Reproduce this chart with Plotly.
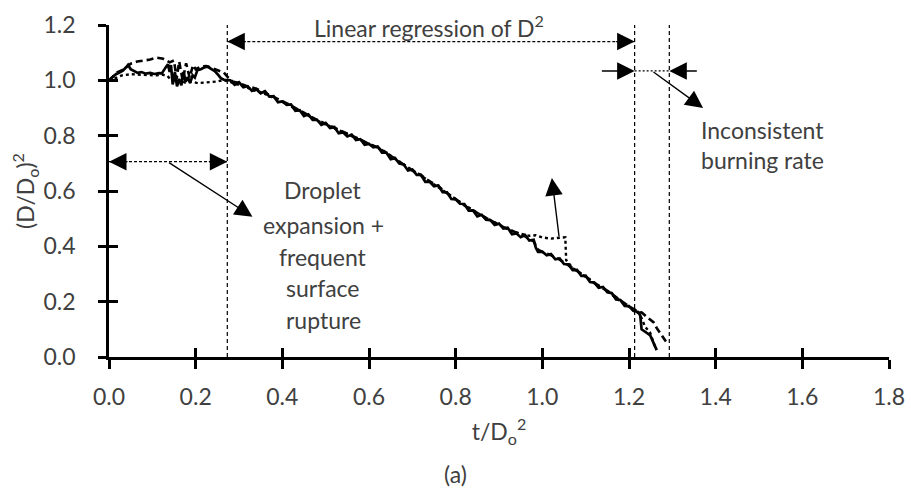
import plotly.graph_objects as go

# ---------------- data ----------------
solid_t = [0.000, 0.008, 0.016, 0.024, 0.032, 0.040, 0.044, 0.050, 0.058, 0.066, 0.075, 0.085, 0.095,
           0.105, 0.115, 0.122, 0.130, 0.136, 0.140, 0.143, 0.147, 0.152, 0.157, 0.162, 0.167, 0.172,
           0.177, 0.182, 0.187, 0.193, 0.198, 0.204, 0.212, 0.220, 0.228, 0.236, 0.245, 0.252, 0.258,
           0.265, 0.272,
           0.28, 0.29, 0.30, 0.31, 0.32, 0.33, 0.34, 0.35, 0.36, 0.37, 0.38, 0.39, 0.40, 0.41, 0.42,
           0.43, 0.44, 0.45, 0.46, 0.47, 0.48, 0.49, 0.50, 0.51, 0.52, 0.53, 0.54, 0.55, 0.56, 0.57,
           0.58, 0.59, 0.60, 0.61, 0.62, 0.63, 0.64, 0.65, 0.66, 0.67, 0.68, 0.69, 0.70, 0.71, 0.72,
           0.73, 0.74, 0.75, 0.76, 0.77, 0.78, 0.79, 0.80, 0.81, 0.82, 0.83, 0.84, 0.85, 0.86, 0.87,
           0.88, 0.89, 0.90, 0.91, 0.92, 0.93, 0.94, 0.95, 0.96, 0.97, 0.98, 0.985, 0.99, 1.00, 1.01,
           1.02, 1.03, 1.04, 1.05, 1.06, 1.07, 1.08, 1.09, 1.10, 1.11, 1.12, 1.13, 1.14, 1.15, 1.16,
           1.17, 1.18, 1.19, 1.20, 1.21, 1.222, 1.226, 1.229, 1.236, 1.243, 1.249, 1.254, 1.259, 1.264]
solid_d = [1.000, 1.012, 1.022, 1.028, 1.035, 1.048, 1.056, 1.040, 1.032, 1.027, 1.030, 1.024, 1.027,
           1.023, 1.026, 1.025, 1.045, 1.058, 1.030, 1.055, 0.985, 1.030, 0.978, 1.005, 0.982, 1.030,
           0.995, 1.012, 0.990, 1.018, 1.010, 1.037, 1.040, 1.047, 1.049, 1.040, 1.032, 1.020, 1.008,
           1.002, 1.000,
           1.000, 0.984, 0.993, 0.975, 0.979, 0.962, 0.968, 0.953, 0.961, 0.941, 0.943, 0.921, 0.924,
           0.911, 0.913, 0.890, 0.892, 0.871, 0.877, 0.857, 0.857, 0.839, 0.846, 0.828, 0.831, 0.809,
           0.812, 0.797, 0.804, 0.784, 0.787, 0.767, 0.770, 0.758, 0.761, 0.739, 0.739, 0.715, 0.719,
           0.699, 0.696, 0.674, 0.678, 0.658, 0.658, 0.633, 0.633, 0.617, 0.620, 0.596, 0.595, 0.571,
           0.570, 0.554, 0.553, 0.529, 0.530, 0.508, 0.514, 0.496, 0.495, 0.477, 0.482, 0.464, 0.467,
           0.444, 0.447, 0.433, 0.441, 0.421, 0.424, 0.395, 0.380, 0.381, 0.368, 0.372, 0.353, 0.356,
           0.336, 0.335, 0.314, 0.315, 0.293, 0.294, 0.271, 0.269, 0.250, 0.253, 0.234, 0.231, 0.208,
           0.206, 0.185, 0.184, 0.167, 0.162, 0.150, 0.100, 0.094, 0.085, 0.078, 0.060, 0.042, 0.025]

dash_t = [0.000, 0.010, 0.020, 0.035, 0.050, 0.065, 0.080, 0.095, 0.110, 0.125, 0.140, 0.150, 0.156,
          0.162, 0.170, 0.178, 0.186, 0.194, 0.200, 0.212, 0.225, 0.240, 0.255, 0.265, 0.275, 0.285,
          0.30, 0.32, 0.34, 0.36, 0.38, 0.40, 0.42, 0.44, 0.46, 0.48, 0.50, 0.52, 0.54, 0.56, 0.58,
          0.60, 0.62, 0.64, 0.66, 0.68, 0.70, 0.72, 0.74, 0.76, 0.78, 0.80, 0.82, 0.84, 0.86, 0.88,
          0.90, 0.92, 0.94, 0.96, 0.98, 0.99, 1.00, 1.02, 1.04, 1.06, 1.08, 1.10, 1.12, 1.14, 1.16,
          1.18, 1.20, 1.215, 1.230, 1.245, 1.257, 1.264, 1.272, 1.280, 1.290]
dash_d = [1.000, 1.015, 1.030, 1.040, 1.060, 1.068, 1.072, 1.075, 1.082, 1.078, 1.065, 1.072, 1.005,
          1.068, 1.000, 1.062, 1.010, 1.055, 1.040, 1.050, 1.052, 1.044, 1.036, 1.028, 1.010, 0.996,
          0.990, 0.978, 0.970, 0.956, 0.940, 0.925, 0.909, 0.893, 0.874, 0.857, 0.843, 0.827, 0.814,
          0.799, 0.786, 0.770, 0.757, 0.738, 0.716, 0.695, 0.674, 0.657, 0.635, 0.617, 0.592, 0.571,
          0.548, 0.529, 0.511, 0.493, 0.477, 0.463, 0.450, 0.436, 0.418, 0.388, 0.380, 0.368, 0.352,
          0.333, 0.311, 0.291, 0.268, 0.249, 0.229, 0.205, 0.183, 0.170, 0.160, 0.140, 0.125, 0.105,
          0.085, 0.065, 0.045]

dot_t = [0.000, 0.015, 0.030, 0.050, 0.070, 0.090, 0.110, 0.125, 0.135, 0.145, 0.155, 0.165, 0.175,
         0.190, 0.205, 0.220, 0.235, 0.250, 0.262, 0.275, 0.29, 0.31, 0.33, 0.35, 0.37, 0.39, 0.41,
         0.43, 0.45, 0.47, 0.49, 0.51, 0.53, 0.55, 0.57, 0.59, 0.61, 0.63, 0.65, 0.67, 0.69, 0.71,
         0.73, 0.75, 0.77, 0.79, 0.81, 0.83, 0.85, 0.87, 0.89, 0.91, 0.93, 0.95, 0.97, 0.985, 1.00,
         1.02, 1.04, 1.053, 1.055, 1.07, 1.09, 1.11, 1.13, 1.15, 1.17, 1.19, 1.21, 1.225, 1.237,
         1.249, 1.26]
dot_d = [0.998, 1.008, 1.018, 1.022, 1.020, 1.019, 1.018, 1.020, 1.015, 1.000, 0.995, 1.000, 0.992,
         0.995, 0.990, 0.992, 0.993, 0.996, 1.000, 0.997, 0.988, 0.980, 0.966, 0.957, 0.944, 0.930,
         0.914, 0.897, 0.880, 0.862, 0.847, 0.834, 0.820, 0.805, 0.792, 0.777, 0.763, 0.749, 0.728,
         0.706, 0.685, 0.666, 0.645, 0.627, 0.604, 0.582, 0.560, 0.540, 0.520, 0.502, 0.487, 0.470,
         0.455, 0.446, 0.438, 0.440, 0.432, 0.428, 0.431, 0.433, 0.350, 0.322, 0.300, 0.279, 0.254,
         0.240, 0.213, 0.192, 0.172, 0.155, 0.110, 0.087, 0.037]

x_ticks = [0.0, 0.2, 0.4, 0.6, 0.8, 1.0, 1.2, 1.4, 1.6, 1.8]
x_tick_labels = ["0.0", "0.2", "0.4", "0.6", "0.8", "1.0", "1.2", "1.4", "1.6", "1.8"]
y_ticks = [0.0, 0.2, 0.4, 0.6, 0.8, 1.0, 1.2]
y_tick_labels = ["0.0", "0.2", "0.4", "0.6", "0.8", "1.0", "1.2"]

# region boundaries (t/Do^2)
t_expansion_end = 0.273
t_regression_end = 1.213
t_inconsistent_end = 1.293

droplet_lines = ["Droplet", "expansion +", "frequent", "surface", "rupture"]
droplet_y = [0.604, 0.477, 0.361, 0.249, 0.134]

# ---------------- figure ----------------
FONT = "Lato"
FS = 23
TXT = "#404040"
fig = go.Figure()

fig.add_trace(go.Scatter(x=solid_t, y=solid_d, mode="lines", name="solid",
                         line=dict(color="black", width=2.7)))
fig.add_trace(go.Scatter(x=dash_t, y=dash_d, mode="lines", name="dashed",
                         line=dict(color="black", width=2.6, dash="7px,4px")))
fig.add_trace(go.Scatter(x=dot_t, y=dot_d, mode="lines", name="dotted",
                         xaxis="x2", yaxis="y2",
                         line=dict(color="black", width=2.4, dash="dot")))

axis_common = dict(showgrid=False, zeroline=False, color="black", automargin=False)
fig.update_layout(
    template="none",
    width=911, height=488,
    margin=dict(l=109, r=22, t=25, b=131),
    paper_bgcolor="white", plot_bgcolor="white",
    showlegend=False,
    font=dict(family=FONT, size=FS, color=TXT),
    xaxis=dict(range=[0, 1.8], tickvals=x_ticks, ticktext=x_tick_labels,
               showline=True, linecolor="black", linewidth=2.5,
               ticks="outside", ticklen=9, tickwidth=2.5, tickcolor="black",
               ticklabelstandoff=9,
               tickfont=dict(family=FONT, size=FS, color=TXT),
               title=dict(text="t/D<sub>o</sub><sup>2</sup>", standoff=15,
                          font=dict(family=FONT, size=FS, color=TXT)),
               **axis_common),
    yaxis=dict(range=[0, 1.2], tickvals=y_ticks, ticktext=y_tick_labels,
               showline=True, linecolor="black", linewidth=2.5,
               ticks="outside", ticklen=8, tickwidth=2.5, tickcolor="black",
               ticklabelstandoff=18,
               tickfont=dict(family=FONT, size=FS, color=TXT),
               title=dict(text="(D/D<sub>o</sub>)<sup>2</sup>", standoff=3,
                          font=dict(family=FONT, size=FS, color=TXT)),
               **axis_common),
    xaxis2=dict(range=[0, 1.8], overlaying="x", anchor="y", tickvals=x_ticks,
                showticklabels=False, ticks="inside", ticklen=9, tickwidth=2.5,
                tickcolor="black", showline=False, **axis_common),
    yaxis2=dict(range=[0, 1.2], overlaying="y", anchor="x", tickvals=y_ticks,
                showticklabels=False, ticks="inside", ticklen=9, tickwidth=2.5,
                tickcolor="black", showline=False, **axis_common),
)

# vertical dashed boundaries
for tb in [t_expansion_end, t_regression_end, t_inconsistent_end]:
    fig.add_shape(type="line", xref="x", yref="y", x0=tb, x1=tb, y0=0, y1=1.21,
                  line=dict(color="black", width=1.2, dash="4px,3px"))

# horizontal dashed spans
fig.add_shape(type="line", xref="x", yref="y", x0=t_expansion_end, x1=t_regression_end,
              y0=1.14, y1=1.14, line=dict(color="black", width=1.2, dash="3px,2px"))
fig.add_shape(type="line", xref="x", yref="y", x0=0, x1=t_expansion_end,
              y0=0.706, y1=0.706, line=dict(color="black", width=1.2, dash="3px,2px"))
fig.add_shape(type="line", xref="x", yref="y", x0=t_regression_end, x1=t_inconsistent_end,
              y0=1.034, y1=1.034, line=dict(color="black", width=1.2, dash="2px,2px"))

HEAD = dict(showarrow=True, arrowhead=2, arrowsize=2.5, arrowwidth=1.4,
            arrowcolor="black", text="")

def head(x, y, ax, ay):
    fig.add_annotation(x=x, y=y, ax=ax, ay=ay, xref="x", yref="y", **HEAD)

def arrow(x, y, ax, ay):
    fig.add_annotation(x=x, y=y, ax=ax, ay=ay, xref="x", yref="y",
                       axref="x", ayref="y", **HEAD)

# heads of the dashed spans
head(t_regression_end, 1.14, -20, 0)
head(t_expansion_end, 1.14, 20, 0)
head(t_expansion_end, 0.706, -20, 0)
head(0, 0.706, 20, 0)
# inconsistent burning rate arrows
arrow(t_regression_end, 1.034, 1.134, 1.034)
arrow(t_inconsistent_end, 1.034, 1.36, 1.034)
arrow(1.371, 0.90, 1.253, 1.034)
# droplet expansion pointer
arrow(0.331, 0.507, 0.135, 0.706)
# pointer near t = 1.0
arrow(1.022, 0.647, 1.039, 0.43)

# texts
fig.add_annotation(x=0.738, y=1.193, xref="x", yref="y", showarrow=False,
                   text="Linear regression of D<sup>2</sup>",
                   font=dict(family=FONT, size=FS, color=TXT))
for line_txt, ly in zip(droplet_lines, droplet_y):
    fig.add_annotation(x=0.494, y=ly, xref="x", yref="y", showarrow=False, text=line_txt,
                       font=dict(family=FONT, size=FS, color=TXT))
fig.add_annotation(x=1.362, y=0.82, xref="x", yref="y", showarrow=False, xanchor="left",
                   text="Inconsistent", font=dict(family=FONT, size=FS, color=TXT))
fig.add_annotation(x=1.362, y=0.712, xref="x", yref="y", showarrow=False, xanchor="left",
                   text="burning rate", font=dict(family=FONT, size=FS, color=TXT))
fig.add_annotation(x=0.444, y=-0.352, xref="paper", yref="paper", showarrow=False,
                   yanchor="middle", text="(a)", font=dict(family=FONT, size=FS, color=TXT))

fig.write_html("out.html", config={"displayModeBar": False},
               post_script="document.body.style.margin='0';document.body.style.overflow='hidden';")
